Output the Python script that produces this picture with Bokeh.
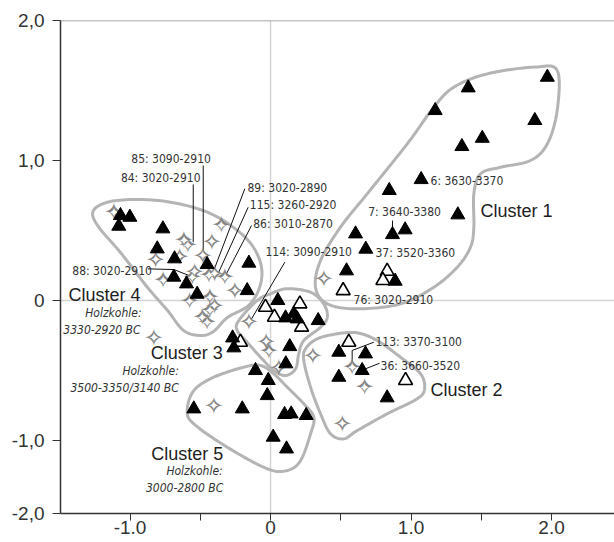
import numpy as np
from bokeh.plotting import figure
from bokeh.models import ColumnDataSource, Span, FixedTicker, Range1d
from bokeh.core.properties import value
from bokeh.embed import file_html
from bokeh.resources import INLINE

# ---------------- data ----------------
filled_x = [1.97, 1.407, 1.172, 1.881, 1.507, 1.362, 1.072, 0.845, 1.333, 0.605, 0.958, 0.868, 0.678, 0.541, 0.887,
            -1.068, -1.001, -1.08, -0.766, -0.806, -0.683, -0.451, -0.154, -0.688, -0.598, -0.522, -0.166,
            0.052, 0.107, 0.166, 0.19, 0.339, -0.27, -0.261, 0.137, 0.109,
            -0.107, -0.016, -0.023, -0.546, -0.201, 0.10, 0.147, 0.254, 0.019, 0.114,
            0.486, 0.676, 0.652, 0.486, 0.83]
filled_y = [1.595, 1.519, 1.357, 1.286, 1.159, 1.10, 0.864, 0.786, 0.612, 0.476, 0.505, 0.471, 0.367, 0.212, 0.138,
            0.607, 0.595, 0.531, 0.512, 0.369, 0.298, 0.257, 0.267, 0.167, 0.119, 0.045, 0.071,
            0.0, -0.124, -0.095, -0.131, -0.143, -0.267, -0.338, -0.329, -0.452,
            -0.5, -0.571, -0.679, -0.774, -0.774, -0.814, -0.81, -0.821, -0.976, -1.06,
            -0.369, -0.381, -0.50, -0.548, -0.695]

open_x = [0.83, 0.80, 0.517, -0.036, 0.028, 0.209, 0.221, -0.214, 0.557, 0.961]
open_y = [0.209, 0.143, 0.071, -0.048, -0.119, -0.024, -0.19, -0.298, -0.298, -0.571]

star_x = [0.38,
          -1.115, -0.351, -0.617, -0.589, -0.418, -0.818, -0.648, -0.482, -0.541, -0.557, -0.439, -0.399,
          -0.325, -0.764, -0.254, -0.577, -0.432, -0.399, -0.432, -0.486, -0.451,
          -0.83,
          -0.154, -0.031, -0.012, 0.059,
          -0.404,
          0.301, 0.581, 0.669, 0.51]
star_y = [0.155,
          0.631, 0.536, 0.429, 0.393, 0.421, 0.291, 0.314, 0.321, 0.207, 0.167, 0.179, 0.191,
          0.167, 0.143, 0.071, -0.007, 0.024, -0.036, -0.071, -0.119, -0.155,
          -0.267,
          -0.15, -0.293, -0.362, -0.481,
          -0.75,
          -0.393, -0.476, -0.619, -0.881]

# cluster outlines (control points, data units)
c1_x = [2.04, 2.04, 1.97, 1.85, 1.637, 1.495, 1.447, 1.447, 1.423, 1.329, 1.162, 0.925, 0.617, 0.404, 0.32,
        0.356, 0.498, 0.688, 0.973, 1.162, 1.305, 1.542, 1.874]
c1_y = [1.643, 1.357, 1.119, 1.0, 0.952, 0.905, 0.762, 0.524, 0.381, 0.238, 0.095, -0.024, -0.059, -0.024, 0.095,
        0.286, 0.524, 0.762, 1.119, 1.381, 1.524, 1.619, 1.667]
c2_x = [0.249, 0.332, 0.475, 0.617, 0.759, 0.925, 1.068, 1.096, 1.044, 0.831, 0.617, 0.522, 0.427, 0.356, 0.285, 0.237]
c2_y = [-0.345, -0.274, -0.238, -0.231, -0.286, -0.405, -0.524, -0.631, -0.702, -0.809, -0.929, -0.988, -0.952,
        -0.809, -0.619, -0.429]
c3_x = [-0.226, -0.095, 0.0, 0.119, 0.285, 0.379, 0.404, 0.356, 0.237, 0.201, 0.178, 0.107, 0.023, -0.071, -0.166, -0.237]
c3_y = [-0.143, 0.0, 0.048, 0.084, 0.059, -0.024, -0.119, -0.191, -0.286, -0.381, -0.488, -0.536, -0.5, -0.405,
        -0.298, -0.214]
c4_x = [-1.26, -1.139, -0.904, -0.662, -0.427, -0.235, -0.121, -0.064, -0.078, -0.157, -0.306, -0.406, -0.498,
        -0.619, -0.733, -0.875, -1.068, -1.231]
c4_y = [0.643, 0.707, 0.721, 0.693, 0.621, 0.5, 0.379, 0.236, 0.093, -0.036, -0.121, -0.221, -0.25, -0.214,
        -0.071, 0.093, 0.343, 0.536]
c5_x = [-0.546, -0.593, -0.546, -0.308, -0.023, 0.119, 0.214, 0.285, 0.308, 0.237, 0.119, 0.023, -0.071, -0.19, -0.404]
c5_y = [-0.643, -0.786, -0.881, -1.048, -1.202, -1.214, -1.143, -0.952, -0.833, -0.738, -0.619, -0.524, -0.464,
        -0.476, -0.548]

# sample labels
lab_text = ["85: 3090-2910", "84: 3020-2910", "89: 3020-2890", "115: 3260-2920", "86: 3010-2870",
            "114: 3090-2910", "88: 3020-2910", "6: 3630-3370", "7: 3640-3380", "37: 3520-3360",
            "76: 3020-2910", "113: 3370-3100", "36: 3660-3520"]
lab_x = [-0.991, -1.065, -0.164, -0.147, -0.123, -0.036, -1.411, 1.139, 0.695, 0.747, 0.591, 0.747, 0.783]
lab_y = [1.012, 0.876, 0.804, 0.679, 0.548, 0.345, 0.209, 0.857, 0.629, 0.338, 0.007, -0.298, -0.469]

leader_xs = [[-0.479, -0.479], [-0.55, -0.55], [-0.183, -0.404], [-0.159, -0.379], [-0.135, -0.32],
             [0.102, -0.142], [-0.873, -0.688, -0.581], [0.868, 0.868], [0.735, 0.581, 0.581], [0.776, 0.676]]
leader_ys = [[0.964, 0.321], [0.829, 0.416], [0.798, 0.214], [0.666, 0.179], [0.536, 0.179],
             [0.274, -0.143], [0.226, 0.221, 0.179], [0.571, 0.486], [-0.298, -0.357, -0.471], [-0.448, -0.488]]

# cluster names
cl_text = ["Cluster 1", "Cluster 2", "Cluster 3", "Cluster 4", "Cluster 5"]
cl_x = [1.495, 1.139, -0.34, -0.925, -0.337]
cl_y = [0.638, -0.636, -0.376, 0.036, -1.095]
cl_align = ["left", "left", "right", "right", "right"]

hz_text = ["Holzkohle:", "3330-2920 BC", "Holzkohle:", "3500-3350/3140 BC", "Holzkohle:", "3000-2800 BC"]
hz_x = [-0.918, -0.925, -0.653, -0.653, -0.34, -0.337]
hz_y = [-0.088, -0.209, -0.505, -0.624, -1.219, -1.338]

x_ticks = [-1, 0, 1, 2]
x_minor = [-1.5, -0.5, 0.5, 1.5]
x_tick_labels = ["-1.0", "0", "1.0", "2.0"]
y_bottom = -1.5214
y_ticks = [y_bottom, -1, 0, 1, 2]
y_tick_labels = ["-2,0", "-1,0", "0", "1,0", "2,0"]

NARROW = value("DejaVu Sans Condensed")


def smooth_closed(xs, ys, n=12):
    pts = np.column_stack([xs, ys])
    N = len(pts)
    out = []
    for i in range(N):
        p0, p1, p2, p3 = pts[i - 1], pts[i], pts[(i + 1) % N], pts[(i + 2) % N]
        for t in np.linspace(0, 1, n, endpoint=False):
            t2, t3 = t * t, t * t * t
            out.append(0.5 * ((2 * p1) + (-p0 + p2) * t + (2 * p0 - 5 * p1 + 4 * p2 - p3) * t2
                              + (-p0 + 3 * p1 - 3 * p2 + p3) * t3))
    out.append(out[0])
    out = np.array(out)
    return list(out[:, 0]), list(out[:, 1])


# ---------------- figure ----------------
p = figure(width=614, height=542, output_backend="svg", toolbar_location=None,
           x_range=Range1d(-1.4947, 2.448), y_range=Range1d(y_bottom, 2.0),
           min_border_left=60, min_border_top=20, min_border_right=0, min_border_bottom=29)
p.outline_line_color = None
p.grid.visible = False
p.background_fill_color = "white"

# zero lines and top border
p.add_layout(Span(location=0, dimension="height", line_color="#d4d4d4", line_width=1.5, level="underlay"))
p.add_layout(Span(location=0, dimension="width", line_color="#d4d4d4", line_width=1.5, level="underlay"))
p.add_layout(Span(location=2.0, dimension="width", line_color="#8a8a8a", line_width=1.5, level="underlay"))

# outlines
oxs, oys = [], []
for cx, cy in [(c1_x, c1_y), (c2_x, c2_y), (c3_x, c3_y), (c4_x, c4_y), (c5_x, c5_y)]:
    sx, sy = smooth_closed(cx, cy)
    oxs.append(sx)
    oys.append(sy)
p.multi_line(oxs, oys, line_color="#b4b4b4", line_width=3)

# leader lines
p.multi_line(leader_xs, leader_ys, line_color="#111111", line_width=1)

# markers: four-pointed stars (grey outline, white centre)
star_src = ColumnDataSource(dict(x=star_x, y=star_y, s=["\u2726"] * len(star_x)))
p.text(x="x", y="y", text="s", source=star_src, text_font=value("DejaVu Sans"),
       text_font_size="24px", text_color="#858585", text_align="center", text_baseline="middle")
p.text(x="x", y="y", text="s", source=star_src, text_font=value("DejaVu Sans"),
       text_font_size="13px", text_color="white", text_align="center", text_baseline="middle")
p.scatter(open_x, open_y, marker="triangle", size=14, fill_color="white", line_color="black", line_width=1.6)
p.scatter(filled_x, filled_y, marker="triangle", size=14, fill_color="black", line_color="black")

# labels
p.text(x=lab_x, y=lab_y, text=lab_text, text_font=NARROW, text_font_size="12px",
       text_color="#333333", text_align="left", text_baseline="middle")
src_cl = ColumnDataSource(dict(x=cl_x, y=cl_y, text=cl_text, align=cl_align))
p.text(x="x", y="y", text="text", text_align="align", source=src_cl, text_font=value("Liberation Sans"),
       text_font_size="18px", text_color="#1e1e1e", text_baseline="middle")
p.text(x=hz_x, y=hz_y, text=hz_text, text_font=NARROW, text_font_size="12px",
       text_font_style="italic", text_color="#333333", text_align="right", text_baseline="middle")

# axes
xa = p.xaxis[0]
xa.ticker = FixedTicker(ticks=x_ticks, minor_ticks=x_minor)
xa.major_label_overrides = {t: s for t, s in zip(x_ticks, x_tick_labels)}
xa.major_tick_out = 7
xa.major_tick_in = 0
xa.minor_tick_out = 7
xa.minor_tick_in = 0
xa.major_label_standoff = 0
xa.major_label_text_font = "Liberation Sans"
xa.major_label_text_font_size = "19px"
xa.major_label_text_color = "#333333"
xa.axis_line_color = "#333333"
xa.axis_line_width = 1.5
xa.major_tick_line_color = "#333333"
xa.minor_tick_line_color = "#333333"

ya = p.yaxis[0]
ya.ticker = FixedTicker(ticks=y_ticks, minor_ticks=[])
ya.major_label_overrides = {t: s for t, s in zip(y_ticks, y_tick_labels)}
ya.major_tick_out = 8
ya.major_tick_in = 0
ya.major_label_standoff = 8
ya.major_label_text_font = "Liberation Sans"
ya.major_label_text_font_size = "19px"
ya.major_label_text_color = "#333333"
ya.axis_line_color = "#333333"
ya.axis_line_width = 1.5
ya.major_tick_line_color = "#333333"

open("out.html", "w").write(file_html(p, INLINE))
